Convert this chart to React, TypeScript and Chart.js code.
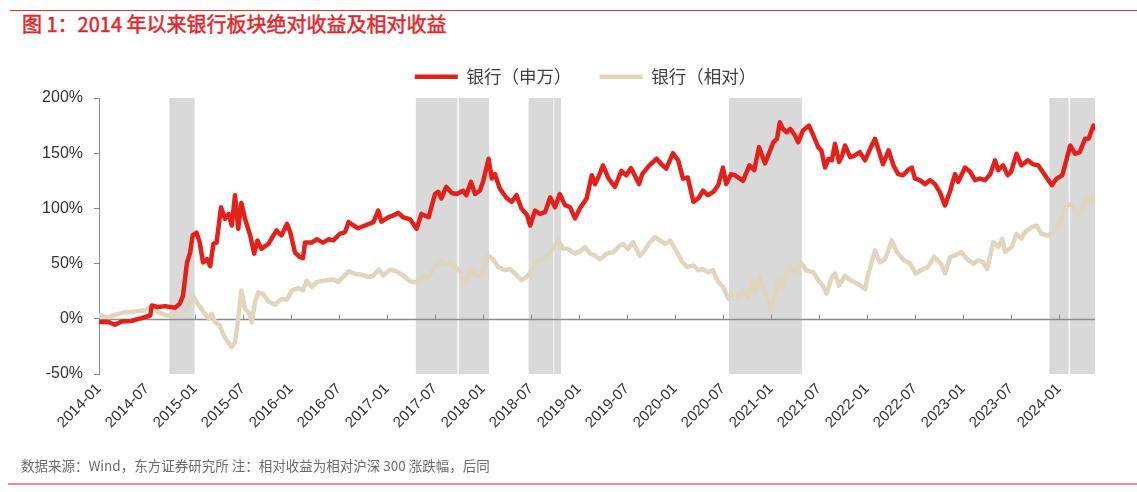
import React, { useEffect, useRef } from 'react';
import { Chart, registerables } from 'chart.js';

Chart.register(...registerables);

// ---- data (x = months since 2014-01) ----
const seriesNames = ['银行（申万）', '银行（相对）'];

const absMonths = [0,1.2,2,2.8,4,5.3,6.4,6.6,7.4,8.25,9.5,10.1,10.5,11,11.4,11.7,12.2,12.6,13,13.5,13.9,14.3,14.7,15.25,15.75,16.2,16.6,17,17.4,17.8,18.25,18.9,19.4,19.8,20.3,21.2,21.8,22.2,22.8,23.5,23.9,24.5,25.1,25.5,25.75,26.6,27.2,28,28.7,29.3,30.1,30.75,31.2,31.8,32.4,33.25,34.3,34.9,35.3,36.2,36.8,37.4,38,38.9,39.7,40.3,41.2,41.6,42,42.4,42.8,43.4,44.1,44.7,45.5,45.9,46.5,47,47.6,48,48.7,49.1,49.5,50.1,51,51.6,52.2,52.8,53.5,53.9,54.5,55.1,55.75,56.4,57,57.6,58.25,58.9,59.5,60.1,60.95,61.6,62,62.4,63,63.7,64.5,65.3,65.9,66.5,67.1,67.5,67.9,68.8,69.7,70.3,70.9,71.75,72.4,73,73.6,74.3,74.9,75.5,76.1,76.8,77.4,78,78.4,79,79.5,80.5,81.3,81.9,82.5,83.25,83.7,84.3,84.75,85.1,85.5,85.95,86.4,87,87.4,88,88.75,89.3,89.9,90.3,90.75,91.2,91.6,92,92.5,92.9,93.25,93.9,94.5,95.1,95.75,96.4,97,97.4,98,98.7,99.3,99.9,100.5,101.1,101.6,102,102.6,103.25,103.9,104.5,105.1,105.75,106.4,107,107.4,108.25,108.9,109.5,110.1,110.75,111.4,112,112.4,113,113.6,114,114.7,115.3,116.1,116.75,117.4,118.25,119.1,119.7,120.4,120.75,121.4,122,122.6,123.25,123.7,124.3,124.5];
const absValues = [-3,-3,-5.4,-2.4,-2,0.6,3,12,10.6,11.5,10,13.6,21,51,60,75.5,78,69,51,54,47.7,68,69,101,90.6,95,84.5,112,81.5,105,90.6,75.5,59,71,63.4,68,75.5,80,75.5,86,78.5,60,56,55,69,69,72,69,72,71,77,78.5,87.6,84.5,82,84.5,87.6,98,88,92,93.6,96,92,90,81.5,95,92,102.6,113,115,109,119.6,114,113,116,112,124,113,116,124,145,127,131,118,109,106,112,100,94,84.5,98,95,96.6,110,101,113,103,101,91,100,109,130,122,128,139,127,119.6,134,130,136.5,128,122,131,139,145,140,136,150,143.5,127,128,106,109,116,112,115,121,137,122,131,130,125,139,134.6,155.5,140.7,149,160,163,178,172,169,172,166,160,170.6,175,166,155.5,152.5,137,145,143.5,158.5,142,148,157,146.4,148,151,143.5,154,163,154,140,152.5,139,131,130,134.6,137,127,125.6,122,125.6,122,114.7,102.6,116,131,124,137,133,125.6,127,125.6,131,143.5,134.6,139,130,133,149.5,139,143.5,140,139,130,121,127,130,139,157,149.5,151,163,163,175,173];

const relMonths = [0,1.2,2,3.25,4.5,5.75,6.6,7.4,8.5,9.5,10.5,11.2,11.7,12.2,12.8,13.7,14.1,14.5,15.1,15.5,15.95,16.6,17,17.4,17.8,18.25,18.7,19.1,19.5,19.9,20.5,21.2,22,22.8,23.5,24.1,24.9,25.5,25.95,26.6,27.2,28.25,29.3,29.9,30.5,31.2,32,32.8,33.7,34.3,35,35.5,36.4,37.2,38,38.9,39.7,40.5,41.2,41.6,42,42.6,43.1,43.75,44.4,45.1,45.9,46.5,47.1,47.75,48.6,49.25,49.9,50.75,51.4,52,52.8,53.5,54.1,54.75,55.5,56.4,57.4,58,58.6,59.5,60.1,60.75,61.4,62,62.6,63.5,64.3,64.9,65.5,66.1,66.75,67.6,68.2,68.9,69.5,70.1,70.75,71.4,72,72.9,73.5,74.3,74.9,75.5,76.1,76.75,77.4,78,78.7,79.3,79.9,80.5,81.2,81.6,82,82.5,83.25,83.7,84,84.5,84.9,85.3,86.2,87,87.75,88.4,89.3,89.9,90.5,90.95,91.6,92,92.5,93.25,93.9,94.8,95.75,96.1,97,97.6,98.25,99.1,99.75,100.6,101.4,102.1,102.75,103.6,104.4,105.25,105.75,106.4,107,107.8,108.5,109.3,109.9,110.5,111,111.8,112.4,112.9,113.25,114.1,114.7,115.3,115.75,116.6,117.2,117.8,118.6,119.5,120.1,120.95,121.6,122.2,122.8,123.4,123.8,124.5];
const relValues = [3,1.5,3.6,6,6.6,7.5,12,6,3,3.6,6,12,21.7,15,9,0,4.5,-3,-6,-13.6,-19.6,-25.7,-21,0,25.7,9,6,-3,15,24,22.6,15.7,12.7,18,17.5,25.7,27.8,25.7,34.7,28.7,33.2,34.7,35.6,33.2,37.7,42.9,40.8,39.9,37.7,39.3,44.7,39.3,44.7,42.9,39.3,33.8,33.2,39.3,36.8,42,48,53,50,50,47,44,32,45,39,38,57.6,54,47,44,45,41,35,38,44,51.6,54,60,71,63.4,63.4,59,61,65,59,57.4,54,59,60.4,65,68,63.4,69.5,57,62,69.5,74,71,68,71,63.4,51.6,47,48.3,44,45,42.3,44,33.5,29,18,24,19.6,25.7,19.6,35,23,38,24,15,7,21,36,27,48,42,51,44,42,35,30,22.6,38,41,30,39,35,32,27,39,62,51,54,71,60.4,53,50,41,44,47,56,50,41,56,57.4,60.4,54,50,53,51.3,45,69.5,65,72.5,60.4,65,77,72.5,78.5,83,84.5,77,75.5,80,87.6,102.6,104,93.6,98,108.7,106,114.7];

// shaded periods (months since 2014-01)
const shadeStart = [8.8, 39.6, 45.0, 53.7, 56.9, 78.75, 118.8, 121.4];
const shadeEnd = [11.95, 44.8, 48.75, 56.8, 57.75, 87.85, 121.2, 124.5];

const xMin = 0;
const xMax = 124.5;
const yMin = -50;
const yMax = 200;
const yStep = 50;
const xStep = 6;

const RED = 'rgb(228,32,27)';
const BEIGE = 'rgb(224,214,190)';
const AXIS = '#8c8c8c';
const LATIN = "'Liberation Sans', Arial, 'Noto Sans CJK SC', sans-serif";
const CJK = "'Noto Sans CJK SC', 'Liberation Sans', sans-serif";

const monthLabel = (v: number) => {
  const y = 2014 + Math.floor(v / 12);
  const m = Math.round(v % 12) + 1;
  return `${y}-${m < 10 ? '0' + m : m}`;
};

const backdropPlugin = {
  id: 'backdrop',
  beforeDraw(chart: any) {
    const { ctx, chartArea: a, scales } = chart;
    const x = scales.x;
    const y = scales.y;
    ctx.save();
    ctx.fillStyle = '#d9d9d9';
    shadeStart.forEach((s, i) => {
      const x0 = x.getPixelForValue(s);
      const x1 = x.getPixelForValue(shadeEnd[i]);
      ctx.fillRect(x0, a.top, x1 - x0, a.bottom - a.top);
    });
    const y0 = Math.round(y.getPixelForValue(0)) + 0.5;
    ctx.strokeStyle = AXIS;
    ctx.lineWidth = 1.5;
    ctx.beginPath();
    ctx.moveTo(a.left, y0);
    ctx.lineTo(a.right, y0);
    ctx.stroke();
    ctx.lineWidth = 1;
    ctx.beginPath();
    x.ticks.forEach((t: any) => {
      const px = Math.round(x.getPixelForValue(t.value)) + 0.5;
      ctx.moveTo(px, y0);
      ctx.lineTo(px, y0 - 5);
    });
    ctx.stroke();
    ctx.restore();
  },
};

// fixes the legend block height and nudges its centring box
const legendLayoutPlugin = {
  id: 'legendLayout',
  beforeLayout(chart: any) {
    const lg = chart.legend;
    if (lg && !lg.__patched) {
      const orig = lg.fit.bind(lg);
      lg.fit = function () {
        orig();
        this.height = 58;
      };
      lg.__patched = true;
    }
  },
  afterLayout(chart: any) {
    const lg = chart.legend;
    if (lg) {
      lg.left = 76;
    }
  },
};

export default function App() {
  const ref = useRef<HTMLCanvasElement>(null);

  useEffect(() => {
    if (!ref.current) return;
    const chart = new Chart(ref.current, {
      type: 'line',
      data: {
        datasets: [
          {
            label: seriesNames[0],
            data: absMonths.map((m, i) => ({ x: m, y: absValues[i] })),
            borderColor: RED,
            backgroundColor: RED,
            borderWidth: 4.5,
            borderCapStyle: 'round',
            borderJoinStyle: 'round',
            pointRadius: 0,
            pointHoverRadius: 0,
            tension: 0,
          },
          {
            label: seriesNames[1],
            data: relMonths.map((m, i) => ({ x: m, y: relValues[i] })),
            borderColor: BEIGE,
            backgroundColor: BEIGE,
            borderWidth: 4.5,
            borderCapStyle: 'round',
            borderJoinStyle: 'round',
            pointRadius: 0,
            pointHoverRadius: 0,
            tension: 0,
          },
        ],
      },
      options: {
        responsive: false,
        animation: false,
        events: [],
        layout: { padding: { left: 0, right: 42, top: 0, bottom: 0 } },
        plugins: {
          tooltip: { enabled: false },
          legend: {
            position: 'top',
            align: 'center',
            labels: {
              usePointStyle: true,
              pointStyle: 'line',
              pointStyleWidth: 43,
              padding: 28,
              color: '#404040',
              font: { family: CJK, size: 17.5 },
            },
          },
        },
        scales: {
          x: {
            type: 'linear',
            min: xMin,
            max: xMax,
            grid: { display: false, drawTicks: false },
            border: { display: false },
            afterFit: (s: any) => {
              s.height = 86;
            },
            ticks: {
              stepSize: xStep,
              includeBounds: false,
              autoSkip: false,
              maxRotation: 45,
              minRotation: 45,
              padding: 6,
              color: '#333',
              font: { family: LATIN, size: 15 },
              callback: (v: any) => monthLabel(Number(v)),
            },
          },
          y: {
            min: yMin,
            max: yMax,
            grid: {
              display: true,
              drawOnChartArea: false,
              drawTicks: true,
              tickLength: 5,
              tickColor: AXIS,
            },
            border: { display: true, color: AXIS, width: 1 },
            afterFit: (s: any) => {
              s.width = 99;
            },
            ticks: {
              stepSize: yStep,
              padding: 11,
              color: '#333',
              font: { family: LATIN, size: 16 },
              callback: (v: any) => `${v}%`,
            },
          },
        },
      },
      plugins: [backdropPlugin, legendLayoutPlugin],
    } as any);
    return () => chart.destroy();
  }, []);

  return (
    <div
      style={{
        position: 'fixed',
        left: 0,
        top: 0,
        width: 1137,
        height: 492,
        background: '#fff',
        overflow: 'hidden',
      }}
    >
      <div style={{ position: 'absolute', left: 10, right: 0, top: 10, height: 1, background: '#e8312a' }} />
      <div
        style={{
          position: 'absolute',
          left: 22,
          top: 14,
          fontSize: 20,
          lineHeight: '20px',
          fontWeight: 400,
          WebkitTextStroke: '0.5px #e3262a',
          color: '#e3262a',
          fontFamily: CJK,
          whiteSpace: 'nowrap',
        }}
      >
        图 1：2014 年以来银行板块绝对收益及相对收益
      </div>
      <div style={{ position: 'absolute', left: 0, top: 40, width: 1137, height: 420 }}>
        <canvas ref={ref} width={1137} height={420} style={{ display: 'block' }} />
      </div>
      <div
        style={{
          position: 'absolute',
          left: 21,
          top: 457,
          fontSize: 13.5,
          lineHeight: '16px',
          color: '#6b6b6b',
          fontFamily: CJK,
          whiteSpace: 'nowrap',
        }}
      >
        数据来源：Wind，东方证券研究所 注：相对收益为相对沪深 300 涨跌幅，后同
      </div>
      <div style={{ position: 'absolute', left: 8, right: 0, top: 483, height: 1.5, background: '#ef8a8a' }} />
    </div>
  );
}
